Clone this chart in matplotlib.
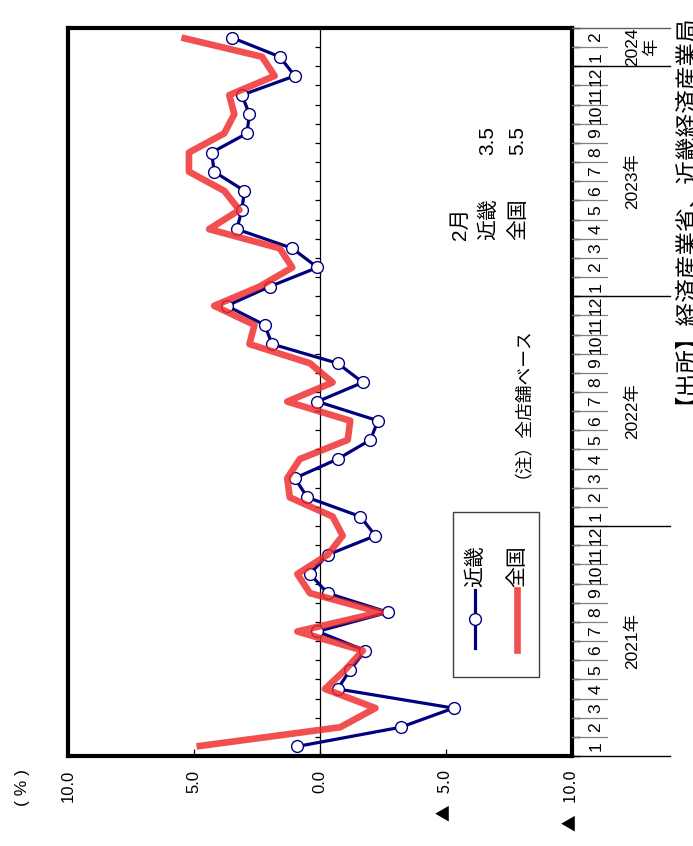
import numpy as np
import matplotlib
matplotlib.use("Agg")
from matplotlib import pyplot as plt
from matplotlib.lines import Line2D
from matplotlib.patches import Rectangle

plt.rcParams['font.family'] = ['Liberation Sans', 'Noto Sans CJK JP', 'DejaVu Sans']

# 前年同月比（％） 2021年1月～2024年2月
kinki = [0.9, -3.2, -5.3, -0.7, -1.2, -1.8, 0.1, -2.7, -0.3, 0.4, -0.3, -2.2,
         -1.6, 0.5, 1.0, -0.7, -2.0, -2.3, 0.1, -1.7, -0.7, 1.9, 2.2, 3.7,
         2.0, 0.1, 1.1, 3.3, 3.1, 3.0, 4.2, 4.3, 2.9, 2.8, 3.1, 1.0,
         1.6, 3.5]
zenkoku = [4.9, -0.8, -2.2, -0.2, -1.0, -1.7, 0.9, -2.4, 0.4, 0.9, -0.3, -0.9,
           -0.5, 1.2, 1.3, 0.8, -1.1, -1.2, 1.3, -0.5, 0.4, 2.8, 2.6, 4.2,
           2.4, 1.1, 1.6, 4.4, 3.2, 3.8, 5.2, 5.2, 3.8, 3.4, 3.6, 1.8,
           2.3, 5.5]
months = list(range(1, 13)) * 3 + [1, 2]
year_labels = ["2021年", "2022年", "2023年"]
val_ticks = [10, 5, 0, -5, -10]
val_labels = ["10.0", "5.0", "0.0", "▲   5.0", "▲   10.0"]

W, H = 693, 846
fig = plt.figure(figsize=(W / 100, H / 100), dpi=100)


def fx(x):
    return x / W


def fy(y):
    return 1 - y / H


# plot area in pixels
L, R, T, B = 68, 572, 28, 756
ax = fig.add_axes([fx(L), fy(B), fx(R - L), (B - T) / H])

n = len(kinki)
idx = np.arange(n)
ax.plot(kinki, idx, color='#000080', lw=2.3, marker='o', ms=8.5,
        mfc='white', mec='#000080', mew=1.0, zorder=3)
ax.plot(zenkoku, idx, color='#f02a2a', lw=4.8, alpha=0.82, zorder=4,
        solid_capstyle='butt')

ax.set_xlim(10, -10)
ax.set_ylim(-0.5, n - 0.5)
ax.axvline(0, color='black', lw=0.9, zorder=2)

# month boundary ticks on the zero line
bounds = np.arange(-0.5, n, 1.0)
ax.hlines(bounds[1:-1], 0, 0.2, color='black', lw=0.9, zorder=2)

ax.set_xticks(val_ticks)
ax.set_xticklabels(val_labels, rotation=90, fontsize=12)
for lbl in ax.get_xticklabels():
    if '▲' in lbl.get_text():
        lbl.set_fontfamily(['Noto Sans CJK JP'])
ax.tick_params(axis='x', direction='in', length=5, width=0.9, pad=10)
ax.yaxis.tick_right()
ax.set_yticks(bounds)
ax.set_yticklabels([])
ax.tick_params(axis='y', direction='out', length=6, width=1, color='black')
for s in ax.spines.values():
    s.set_linewidth(3)

# month / year table on the right
tax = fig.add_axes([fx(R), fy(B), fx(670 - R), (B - T) / H], sharey=ax)
tax.set_xlim(0, 1)
tax.axis('off')
split = 35 / 98
for b in bounds[1:-1]:
    tax.plot([0, split], [b, b], color='#808080', lw=0.9, clip_on=False)
for b in [11.5, 23.5, 35.5, -0.5]:
    tax.plot([0, 1], [b, b], color='black', lw=1.0, clip_on=False)
tax.plot([0, 1], [n - 0.5, n - 0.5], color='#606060', lw=1.0, clip_on=False)
for i, m in enumerate(months):
    tax.text(0.245, i, str(m), rotation=90, ha='center', va='center',
             fontsize=12.5)
for k, lab in enumerate(year_labels):
    tax.text(0.62, 12 * k + 5.5, lab, rotation=90, ha='center',
             va='center', fontsize=12.5)
tax.text(0.62, 36.5, "2024", rotation=90, ha='center', va='center',
         fontsize=12.5)
tax.text(0.81, 36.5, "年", rotation=90, ha='center', va='center',
         fontsize=12.5)

# unit label
fig.text(fx(22), fy(769), "( % )", rotation=90, ha='center', va='top',
         fontsize=12.5)

# legend box
fig.add_artist(Rectangle((fx(453), fy(677)), fx(539 - 453), (677 - 512) / H,
                         transform=fig.transFigure, fill=False,
                         ec='#404040', lw=1.0))
fig.add_artist(Line2D([fx(475)] * 3, [fy(648), fy(619), fy(590)],
                      transform=fig.transFigure, color='#000080', lw=2.3,
                      marker='o', markevery=[1], ms=8.5, mfc='white',
                      mec='#000080', mew=1.0))
fig.add_artist(Line2D([fx(517), fx(517)], [fy(650), fy(590)],
                      transform=fig.transFigure, color='#f02a2a', lw=4.8,
                      alpha=0.82))
fig.text(fx(475), fy(587), "近畿", rotation=90, ha='center', va='bottom',
         fontsize=15)
fig.text(fx(517), fy(587), "全国", rotation=90, ha='center', va='bottom',
         fontsize=15)

# latest month values
fig.text(fx(460), fy(240), "2月", rotation=90, ha='center', va='bottom',
         fontsize=15)
fig.text(fx(488), fy(240), "近畿", rotation=90, ha='center', va='bottom',
         fontsize=15)
fig.text(fx(518), fy(240), "全国", rotation=90, ha='center', va='bottom',
         fontsize=15)
fig.text(fx(488), fy(155), f"{kinki[-1]:.1f}", rotation=90, ha='center',
         va='bottom', fontsize=15)
fig.text(fx(518), fy(155), f"{zenkoku[-1]:.1f}", rotation=90, ha='center',
         va='bottom', fontsize=15)

fig.text(fx(513), fy(478), "（注）全店舗ベース", rotation=90, ha='center',
         va='bottom', fontsize=12.8)

fig.text(fx(674), fy(2), "【出所】経済産業省、近畿経済産業局", rotation=90,
         ha='center', va='top', fontsize=17)

fig.savefig("out.png", dpi=100)
